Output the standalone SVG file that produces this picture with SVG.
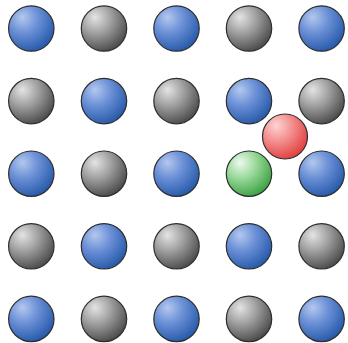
<svg xmlns="http://www.w3.org/2000/svg" width="348" height="343" viewBox="0 0 348 343">
<defs>
<radialGradient id="gb" cx="0.35" cy="0.3" r="0.75" fx="0.3" fy="0.25">
<stop offset="0" stop-color="#b4c8ee"/><stop offset="0.45" stop-color="#6a8fd6"/><stop offset="1" stop-color="#2458a8"/>
</radialGradient>
<radialGradient id="gg" cx="0.35" cy="0.3" r="0.75" fx="0.3" fy="0.25">
<stop offset="0" stop-color="#e4e4e4"/><stop offset="0.45" stop-color="#a0a0a0"/><stop offset="1" stop-color="#484848"/>
</radialGradient>
<radialGradient id="gn" cx="0.35" cy="0.3" r="0.75" fx="0.3" fy="0.25">
<stop offset="0" stop-color="#eefaee"/><stop offset="0.45" stop-color="#9ad89a"/><stop offset="1" stop-color="#38a040"/>
</radialGradient>
<radialGradient id="gr" cx="0.35" cy="0.3" r="0.75" fx="0.3" fy="0.25">
<stop offset="0" stop-color="#fcd4d4"/><stop offset="0.45" stop-color="#f49090"/><stop offset="1" stop-color="#e03c3c"/>
</radialGradient>
</defs>
<style>
circle{stroke:#2e2e2e;stroke-width:1.2}
.b{fill:url(#gb)}.g{fill:url(#gg)}.n{fill:url(#gn)}.r{fill:url(#gr)}
</style>
<g id="spheres">
<g id="s00"><circle class="b" cx="31.3" cy="28.5" r="22.7"/></g>
<g id="s01"><circle class="g" cx="104" cy="28.5" r="22.7"/></g>
<g id="s02"><circle class="b" cx="176.5" cy="28.5" r="22.7"/></g>
<g id="s03"><circle class="g" cx="249" cy="28.5" r="22.7"/></g>
<g id="s04"><circle class="b" cx="321.6" cy="28.5" r="22.7"/></g>
<g id="s10"><circle class="g" cx="31.3" cy="101.1" r="22.7"/></g>
<g id="s11"><circle class="b" cx="104" cy="101.1" r="22.7"/></g>
<g id="s12"><circle class="g" cx="176.5" cy="101.1" r="22.7"/></g>
<g id="s13"><circle class="b" cx="249" cy="101.1" r="22.7"/></g>
<g id="s14"><circle class="g" cx="321.6" cy="101.1" r="22.7"/></g>
<g id="s20"><circle class="b" cx="31.3" cy="173.7" r="22.7"/></g>
<g id="s21"><circle class="g" cx="104" cy="173.7" r="22.7"/></g>
<g id="s22"><circle class="b" cx="176.5" cy="173.7" r="22.7"/></g>
<g id="s23"><circle class="n" cx="249" cy="173.7" r="22.7"/></g>
<g id="s24"><circle class="b" cx="321.6" cy="173.7" r="22.7"/></g>
<g id="s30"><circle class="g" cx="31.3" cy="246.3" r="22.7"/></g>
<g id="s31"><circle class="b" cx="104" cy="246.3" r="22.7"/></g>
<g id="s32"><circle class="g" cx="176.5" cy="246.3" r="22.7"/></g>
<g id="s33"><circle class="b" cx="249" cy="246.3" r="22.7"/></g>
<g id="s34"><circle class="g" cx="321.6" cy="246.3" r="22.7"/></g>
<g id="s40"><circle class="b" cx="31.3" cy="318.9" r="22.7"/></g>
<g id="s41"><circle class="g" cx="104" cy="318.9" r="22.7"/></g>
<g id="s42"><circle class="b" cx="176.5" cy="318.9" r="22.7"/></g>
<g id="s43"><circle class="g" cx="249" cy="318.9" r="22.7"/></g>
<g id="s44"><circle class="b" cx="321.6" cy="318.9" r="22.7"/></g>
<g id="red"><circle class="r" cx="285" cy="136.5" r="22.5"/></g>
</g>
<g id="connectors"/>
</svg>
